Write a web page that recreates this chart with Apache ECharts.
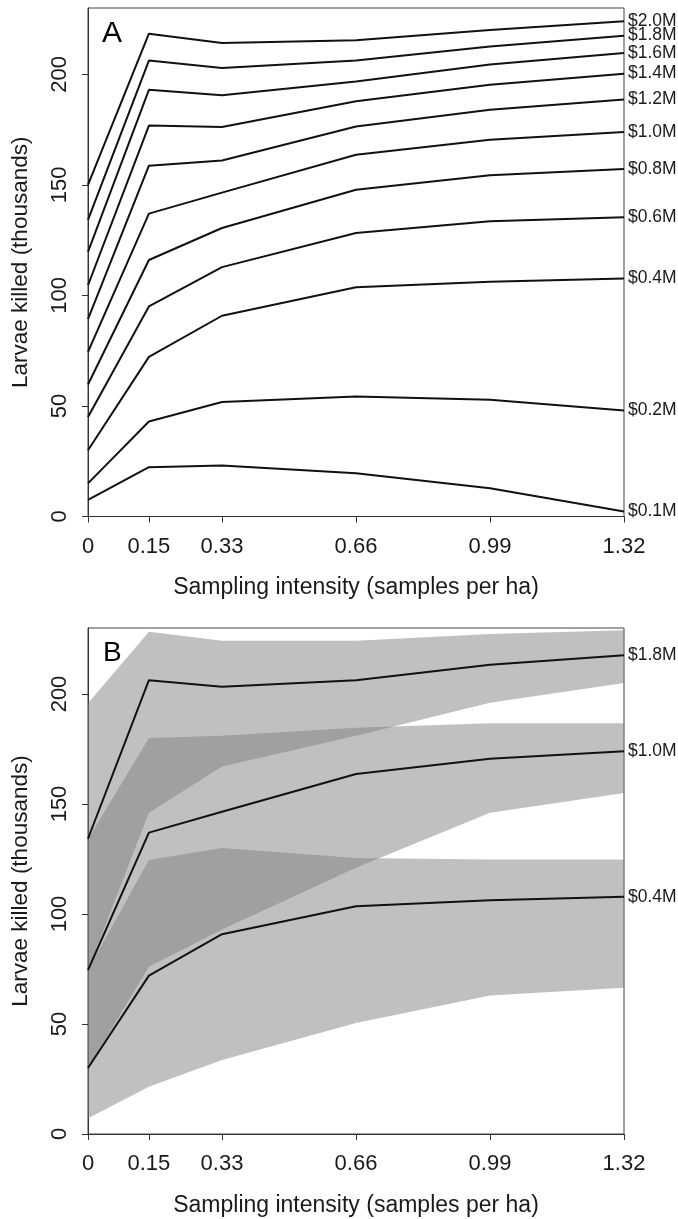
<!DOCTYPE html>
<html>
<head>
<meta charset="utf-8">
<script src="https://cdn.jsdelivr.net/npm/echarts@6/dist/echarts.min.js"></script>
<style>html,body{margin:0;padding:0;background:#fff}#c{width:678px;height:1219px}</style>
</head>
<body>
<div id="c"></div>
<script>
// ---- data ----
const xValues = [0, 0.15, 0.33, 0.66, 0.99, 1.32];
const xTickLabels = ['0', '0.15', '0.33', '0.66', '0.99', '1.32'];
const yTicks = [0, 50, 100, 150, 200];

// Panel A: larvae killed (thousands) by budget
const budgetsA = ['$0.1M', '$0.2M', '$0.4M', '$0.6M', '$0.8M', '$1.0M', '$1.2M', '$1.4M', '$1.6M', '$1.8M', '$2.0M'];
const a01 = [7.5, 22.3, 23.1, 19.6, 12.8, 2.3];
const a02 = [15, 43, 51.8, 54.3, 52.8, 48];
const a04 = [30, 72.2, 90.8, 103.7, 106.2, 107.7];
const a06 = [45, 95, 112.8, 128.2, 133.5, 135.3];
const a08 = [59.7, 116, 130.5, 147.8, 154.3, 157.2];
const a10 = [74.5, 137, 146.5, 163.6, 170.4, 173.9];
const a12 = [89.3, 158.7, 161, 176.4, 184, 188.6];
const a14 = [104.6, 176.8, 176.2, 187.8, 195.3, 200.3];
const a16 = [119.7, 193, 190.5, 196.8, 204.4, 209.6];
const a18 = [134.2, 206.2, 202.9, 206.2, 212.6, 217.5];
const a20 = [150, 218.4, 214.2, 215.4, 220, 224];
const seriesA = [a01, a02, a04, a06, a08, a10, a12, a14, a16, a18, a20];

// Panel B: three budgets with uncertainty bands
const budgetsB = ['$0.4M', '$1.0M', '$1.8M'];
const b04 = [30, 72, 90.8, 103.5, 106.3, 107.8];
const b10 = [74.5, 137, 146.5, 163.6, 170.6, 174];
const b18 = [134.2, 206.3, 203.3, 206.3, 213.3, 217.6];
const b04Lo = [7.2, 21.5, 33.6, 50.5, 63, 66.5];
const b04Hi = [74.5, 124.5, 130, 125.5, 124.8, 124.8];
const b10Lo = [30, 76, 93, 121, 146, 155];
const b10Hi = [134, 180, 181, 184.7, 186.7, 186.7];
const b18Lo = [74.5, 146, 167, 181, 196, 205];
const b18Hi = [195.8, 228.3, 224.2, 224.2, 227.3, 229];
const seriesB = [b04, b10, b18];
const bandsB = [[b04Lo, b04Hi], [b10Lo, b10Hi], [b18Lo, b18Hi]];

// ---- styling ----
const FONT = '"Liberation Sans", Arial, sans-serif';
const TXT = '#1a1a1a';
const BAND = 'rgba(127,127,127,0.49)';

function xAxisDef(gi) {
  return {
    type: 'value', gridIndex: gi, min: 0, max: 1.32,
    name: 'Sampling intensity (samples per ha)', nameLocation: 'middle', nameGap: 60,
    nameTextStyle: { fontFamily: FONT, fontSize: 23, color: TXT },
    axisLine: { show: true, lineStyle: { color: '#333', width: 1 } },
    axisTick: { show: true, length: 6, customValues: xValues, lineStyle: { color: '#333' } },
    axisLabel: {
      customValues: xValues, margin: 19, fontFamily: FONT, fontSize: 22, color: TXT,
      formatter: v => { const i = xValues.findIndex(t => Math.abs(t - v) < 1e-9); return i >= 0 ? xTickLabels[i] : ''; }
    },
    splitLine: { show: false }
  };
}
function yAxisDef(gi) {
  return {
    type: 'value', gridIndex: gi, min: 0, max: 230,
    name: 'Larvae killed (thousands)', nameLocation: 'middle', nameGap: 56, nameRotate: 90,
    nameTextStyle: { fontFamily: FONT, fontSize: 22.5, color: TXT },
    axisLine: { show: true, lineStyle: { color: '#333', width: 1 } },
    axisTick: { show: true, length: 6, customValues: yTicks, lineStyle: { color: '#333' } },
    axisLabel: { customValues: yTicks, rotate: 90, margin: 17, fontFamily: FONT, fontSize: 22, color: TXT },
    splitLine: { show: false }
  };
}
function lineSeries(name, vals, gi) {
  return {
    type: 'line', name: name, xAxisIndex: gi, yAxisIndex: gi,
    data: xValues.map((x, i) => [x, vals[i]]),
    symbol: 'none', z: 5, silent: true,
    lineStyle: { color: '#111', width: 2 },
    endLabel: { show: true, formatter: name, distance: 4, fontFamily: FONT, fontSize: 17.5, color: TXT },
    animation: false
  };
}
function bandSeries(lo, hi, gi) {
  return {
    type: 'custom', xAxisIndex: gi, yAxisIndex: gi, z: 2, silent: true, clip: true,
    data: xValues.map((x, i) => [x, lo[i], hi[i]]),
    encode: { x: 0, y: [1, 2] },
    renderItem: function (params, api) {
      if (params.dataIndex !== 0) return null;
      const pts = [];
      for (let i = 0; i < xValues.length; i++) pts.push(api.coord([xValues[i], hi[i]]));
      for (let i = xValues.length - 1; i >= 0; i--) pts.push(api.coord([xValues[i], lo[i]]));
      return { type: 'polygon', shape: { points: pts }, style: { fill: BAND } };
    },
    animation: false
  };
}

const series = [];
seriesA.forEach((s, i) => series.push(lineSeries(budgetsA[i], s, 0)));
bandsB.forEach(b => series.push(bandSeries(b[0], b[1], 1)));
seriesB.forEach((s, i) => series.push(lineSeries(budgetsB[i], s, 1)));

const chart = echarts.init(document.getElementById('c'), null, { renderer: 'canvas' });
chart.setOption({
  backgroundColor: '#fff',
  animation: false,
  title: [
    { text: 'A', left: 102, top: 19, padding: 0, textStyle: { fontFamily: FONT, fontSize: 30, fontWeight: 'normal', color: '#000' } },
    { text: 'B', left: 103, top: 639, padding: 0, textStyle: { fontFamily: FONT, fontSize: 28, fontWeight: 'normal', color: '#000' } }
  ],
  grid: [
    { left: 88, width: 536, top: 8, height: 508.5, show: true, borderColor: '#444', borderWidth: 1, backgroundColor: 'transparent' },
    { left: 88, width: 536, top: 628, height: 506, show: true, borderColor: '#444', borderWidth: 1, backgroundColor: 'transparent' }
  ],
  xAxis: [xAxisDef(0), xAxisDef(1)],
  yAxis: [yAxisDef(0), yAxisDef(1)],
  series: series
});
</script>
</body>
</html>
